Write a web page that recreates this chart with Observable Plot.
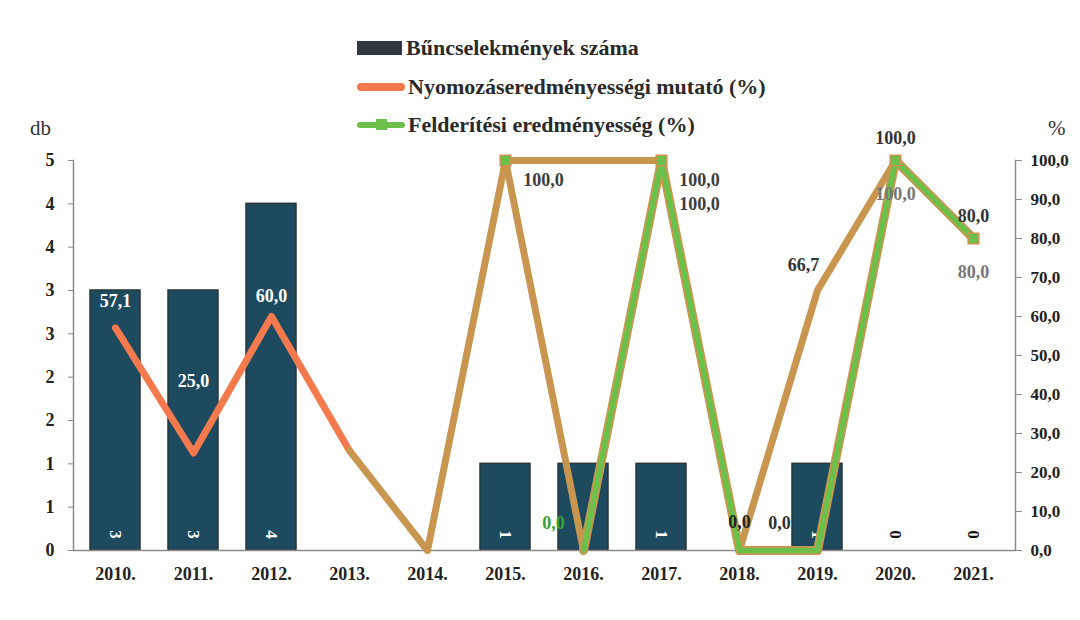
<!DOCTYPE html>
<html><head><meta charset="utf-8">
<script src="https://cdn.jsdelivr.net/npm/d3@7"></script>
<script src="https://cdn.jsdelivr.net/npm/@observablehq/plot@0.6"></script>
<style>
body{margin:0;background:#fff;font-family:"Liberation Serif",serif;}
#wrap{position:relative;width:1080px;height:620px;overflow:hidden;}
#legend{position:absolute;left:357px;top:29px;}
.row{display:flex;align-items:center;height:38.5px;font-size:22px;font-weight:bold;color:#2a2a2a;white-space:nowrap;}
.sw{display:inline-block;position:relative;width:48px;margin-right:3px;}
.unit{position:absolute;font-size:21px;color:#333;}
#chart{position:absolute;left:0;top:0;}
</style></head><body>
<div id="wrap">
<div id="chart"></div>
<div id="legend"></div>
<div class="unit" style="left:30px;top:116px;">db</div>
<div class="unit" style="left:1048px;top:116px;">%</div>
</div>
<script>
const years = ["2010.","2011.","2012.","2013.","2014.","2015.","2016.","2017.","2018.","2019.","2020.","2021."];
const crimes = [3,3,4,0,0,1,1,1,0,1,0,0];
const barLabels = ["3","3","4","","","1","1","1","","1","0","0"];
const nyomozas = [57.1,25.0,60.0,25.6,0,100,100,100,0,66.7,100,80];
const felderites = [null,null,null,null,null,100,0,100,0,0,100,80];
const leftTicks = [0,0.5,1,1.5,2,2.5,3,3.5,4,4.5];
const rightTicks = [0,10,20,30,40,50,60,70,80,90,100];
const seriesNames = ["Bűncselekmények száma","Nyomozáseredményességi mutató (%)","Felderítési eredményesség (%)"];

const leftMax = 4.5;
const k = 100 / leftMax;
const rows = years.map((y,i)=>({i, year:y, crimes:crimes[i], bar:crimes[i]*k, lab:barLabels[i], ny:nyomozas[i], fe:felderites[i]}));
const fmt = v => v.toFixed(1).replace(".", ",");
const ORANGE = "#f47a4e", TAN = "#c99650", GREEN = "#6cc04a", BAR = "#1d4a5e";
const lbl = {fontSize:18, fontWeight:"bold"};

const plot = Plot.plot({
  width:1080, height:620,
  marginTop:160, marginBottom:70, marginLeft:73, marginRight:65,
  style:{fontFamily:"Liberation Serif", background:"transparent", color:"#222"},
  x:{domain:years, paddingInner:0.36, paddingOuter:0.18, label:null},
  y:{domain:[0,100], label:null},
  marks:[
    Plot.barY(rows, {x:"year", y:"bar", fill:BAR, stroke:"#2b3439", strokeWidth:1.5}),
    Plot.ruleY([0], {stroke:"#8a8a8a", strokeWidth:1.5}),
    Plot.frame({anchor:"left", stroke:"#8a8a8a", strokeWidth:1.5}),
    Plot.frame({anchor:"right", stroke:"#8a8a8a", strokeWidth:1.5}),
    Plot.axisX({tickSize:0, tickPadding:17, fontSize:18, fontWeight:"bold", label:null}),
    Plot.axisY(leftTicks.map(c=>c*k), {anchor:"left", tickSize:5, tickPadding:14, fontSize:18, fontWeight:"bold",
      tickFormat: v => String(Math.round(v/k + 1e-9)), label:null, stroke:"#8a8a8a"}),
    Plot.axisY(rightTicks, {anchor:"right", tickSize:6, tickPadding:9, fontSize:17, fontWeight:"bold",
      tickFormat: fmt, label:null, stroke:"#8a8a8a"}),
    // bar value labels, rotated
    Plot.text(rows.filter(d=>d.lab!==""), {x:"year", y:0, text:"lab", rotate:90, dy:-16, fontSize:17, fontWeight:"bold",
      fill: d => d.crimes>0 ? "#fff" : "#111"}),
    // Nyomozáseredményességi mutató
    Plot.line(rows.filter(d=>d.i<=3), {x:"year", y:"ny", stroke:ORANGE, strokeWidth:7, strokeLinejoin:"round"}),
    Plot.line(rows.filter(d=>d.i>=3), {x:"year", y:"ny", stroke:TAN, strokeWidth:7, strokeLinejoin:"round"}),
    // Felderítési eredményesség
    Plot.line(rows.filter(d=>d.i>=5 && d.i<=6), {x:"year", y:"fe", stroke:TAN, strokeWidth:7}),
    Plot.line(rows.filter(d=>d.i>=6), {x:"year", y:"fe", stroke:TAN, strokeWidth:9, strokeLinejoin:"round"}),
    Plot.line(rows.filter(d=>d.i>=6), {x:"year", y:"fe", stroke:GREEN, strokeWidth:5.5, strokeLinejoin:"round"}),
    Plot.dot(rows.filter(d=>d.fe!==null && d.fe>0), {x:"year", y:"fe", symbol:"square", r:6, fill:GREEN, stroke:TAN, strokeWidth:1.5}),
    // labels: Nyomozás
    Plot.text(rows.filter(d=>d.i===0), {x:"year", y:"ny", text:d=>fmt(d.ny), dy:-27, fill:"#fff", ...lbl}),
    Plot.text(rows.filter(d=>d.i===1), {x:"year", y:"ny", text:d=>fmt(d.ny), dy:-72, fill:"#fff", ...lbl}),
    Plot.text(rows.filter(d=>d.i===2), {x:"year", y:"ny", text:d=>fmt(d.ny), dy:-20, fill:"#fff", ...lbl}),
    Plot.text(rows.filter(d=>d.i===5||d.i===7), {x:"year", y:"ny", text:d=>fmt(d.ny), dx:38, dy:20, fill:"#3d3d3d", ...lbl}),
    Plot.text(rows.filter(d=>d.i===8), {x:"year", y:"ny", text:d=>fmt(d.ny), dy:-28, fill:"#222", ...lbl}),
    Plot.text(rows.filter(d=>d.i===9), {x:"year", y:"ny", text:d=>fmt(d.ny), dx:-14, dy:-25, fill:"#333", ...lbl}),
    Plot.text(rows.filter(d=>d.i>=10), {x:"year", y:"ny", text:d=>fmt(d.ny), dy:-22, fill:"#333", ...lbl}),
    // labels: Felderítés
    Plot.text(rows.filter(d=>d.i===6), {x:"year", y:"fe", text:d=>fmt(d.fe), dx:-30, dy:-27, fill:"#3aa03a", ...lbl}),
    Plot.text(rows.filter(d=>d.i===7), {x:"year", y:"fe", text:d=>fmt(d.fe), dx:38, dy:44, fill:"#3d3d3d", ...lbl}),
    Plot.text(rows.filter(d=>d.i===9), {x:"year", y:"fe", text:d=>fmt(d.fe), dx:-38, dy:-27, fill:"#333", ...lbl}),
    Plot.text(rows.filter(d=>d.i>=10), {x:"year", y:"fe", text:d=>fmt(d.fe), dy:34, fill:"#777", ...lbl})
  ]
});
document.getElementById("chart").appendChild(plot);

const legend = document.getElementById("legend");
const swatches = [
  `<span class="sw" style="height:14px;width:45px;margin-right:4px;background:#2e3a3f;"></span>`,
  `<span class="sw" style="height:8px;background:${ORANGE};border-radius:4px;"></span>`,
  `<span class="sw" style="height:6px;background:${GREEN};border-radius:3px;"><span style="position:absolute;left:19px;top:-3px;width:11px;height:11px;background:${GREEN};"></span></span>`
];
seriesNames.forEach((n,i)=>{
  const r = document.createElement("div");
  r.className = "row";
  r.innerHTML = swatches[i] + `<span>${n}</span>`;
  legend.appendChild(r);
});
</script>
</body></html>
